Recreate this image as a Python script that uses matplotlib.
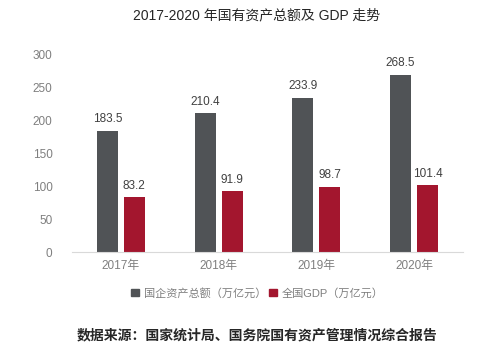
import matplotlib
matplotlib.use("Agg")
import matplotlib.pyplot as plt
import numpy as np
from matplotlib.patches import Patch

plt.rcParams['font.family'] = ['Liberation Sans', 'Noto Sans CJK SC', 'DejaVu Sans']

years = ["2017年", "2018年", "2019年", "2020年"]
soe_assets = [183.5, 210.4, 233.9, 268.5]
gdp = [83.2, 91.9, 98.7, 101.4]
series_names = ["国企资产总额（万亿元）", "全国GDP（万亿元）"]
yticks = [0, 50, 100, 150, 200, 250, 300]
title = "2017-2020 年国有资产总额及 GDP 走势"
source = "数据来源：国家统计局、国务院国有资产管理情况综合报告"

c_gray = "#505356"
c_red = "#a3162e"
tick_color = "#7f7f7f"

fig = plt.figure(figsize=(5.0, 3.51), dpi=100)
ax = fig.add_axes([0.144, 0.282, 0.782, 0.564])

x = np.arange(len(years))
w = 0.215
off = 0.138
b1 = ax.bar(x - off, soe_assets, w, color=c_gray)
b2 = ax.bar(x + off, gdp, w, color=c_red)

for bars, vals in ((b1, soe_assets), (b2, gdp)):
    for b, v in zip(bars, vals):
        ax.annotate(f"{v}", (b.get_x() + b.get_width() / 2, v), xytext=(0, 4),
                    textcoords="offset points", ha="center", va="bottom",
                    fontsize=8.5, color="#404040")

ax.set_xlim(-0.5, 3.5)
ax.set_ylim(0, 300)
ax.set_yticks(yticks)
ax.set_xticks(x)
ax.set_xticklabels(years)
ax.tick_params(axis='both', length=0, labelsize=8.5, colors=tick_color)
ax.tick_params(axis='y', pad=14)
ax.tick_params(axis='x', pad=6)
for s in ("top", "right", "left"):
    ax.spines[s].set_visible(False)
ax.spines["bottom"].set_color("#d9d9d9")
ax.spines["bottom"].set_linewidth(0.8)

fig.text(0.513, 0.955, title, ha="center", va="center", fontsize=10, color="#262626")

handles = [Patch(color=c_gray), Patch(color=c_red)]
fig.legend(handles, series_names, loc="center", bbox_to_anchor=(0.515, 0.165),
           ncol=2, frameon=False, fontsize=8, labelcolor=tick_color,
           handlelength=0.7, handleheight=0.7, handletextpad=0.4, columnspacing=0.3)

fig.text(0.514, 0.045, source, ha="center", va="center", fontsize=10,
         fontweight="bold", style="italic", color="#262626")

fig.savefig("out.png", dpi=100, facecolor="white")
